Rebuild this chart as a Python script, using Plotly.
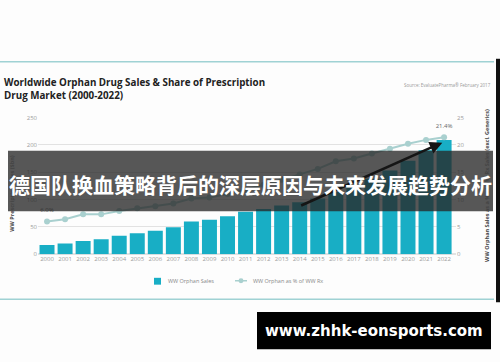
import plotly.graph_objects as go

years = list(range(2000, 2023))
year_labels = [str(y) for y in years]
sales_bn = [17, 20, 24.5, 27.5, 34, 38.5, 43, 49.5, 60, 63, 69.5, 78, 83, 89, 95, 102,
            114, 125, 138, 153, 171, 190, 209]
share_pct = [6.0, 6.4, 7.3, 7.3, 7.9, 8.4, 8.8, 9.3, 10.2, 10.4, 11.0, 11.8, 12.7, 13.6,
             14.6, 15.6, 17.0, 17.5, 18.4, 19.3, 20.2, 20.9, 21.4]
left_ticks = [0, 50, 100, 150, 200, 250]
right_ticks = [0, 5, 10, 15, 20, 25]

W, H = 500, 362
def px(x):
    return x / W
def py(y):
    return 1 - y / H

BAR = "#18aec5"
LINE = "#a9d0cf"
TICK = "#9c9c9c"

fig = go.Figure()
fig.add_trace(go.Bar(x=years, y=sales_bn, name="WW Orphan Sales",
                     marker=dict(color=BAR, line=dict(width=0)), yaxis="y",
                     showlegend=False))
fig.add_trace(go.Scatter(x=years, y=share_pct, name="WW Orphan as % of WW Rx",
                         mode="lines+markers", yaxis="y2",
                         line=dict(color=LINE, width=2),
                         marker=dict(color=LINE, size=6), showlegend=False))
lab_idx = [0, len(years) - 1]
fig.add_trace(go.Scatter(x=[years[i] for i in lab_idx],
                         y=[share_pct[i] for i in lab_idx],
                         text=[f"{share_pct[i]:.1f}%<br> " for i in lab_idx],
                         mode="text", textposition="top center",
                         textfont=dict(size=6, color="#666"),
                         yaxis="y2", showlegend=False, hoverinfo="skip"))

fig.update_layout(
    width=W, height=H,
    margin=dict(l=0, r=0, t=0, b=0),
    paper_bgcolor="#fdfdfd", plot_bgcolor="rgba(0,0,0,0)",
    bargap=0.17,
    font=dict(family="Open Sans", color=TICK),
    xaxis=dict(domain=[px(38), px(456)], range=[1999.5, 2022.66],
               tickvals=years, ticktext=year_labels, tickangle=0,
               tickfont=dict(size=6, color=TICK), showgrid=False,
               zeroline=False, showline=False, ticks=""),
    yaxis=dict(domain=[py(256), py(116)], range=[0, 250], tickvals=left_ticks,
               tickfont=dict(size=6, color=TICK), showgrid=True,
               gridcolor="#e2e2e2", gridwidth=1, zeroline=True,
               zerolinecolor="#e2e2e2", showline=False, ticks=""),
    yaxis2=dict(overlaying="y", side="right", range=[0, 25], tickvals=right_ticks,
                ticksuffix="%", tickfont=dict(size=6, color=TICK), showgrid=False,
                zeroline=False, showline=False, ticks=""),
    showlegend=False,
)

shapes = [
    dict(type="line", xref="paper", yref="paper", x0=0, x1=px(494), y0=py(59), y1=py(59),
         line=dict(color="#9fd2d4", width=1.5)),
    dict(type="line", xref="paper", yref="paper", x0=0, x1=px(494), y0=py(302), y1=py(302),
         line=dict(color="#9fd2d4", width=1.5)),
    dict(type="rect", xref="paper", yref="paper", x0=px(496), x1=px(500), y0=py(305), y1=py(56),
         fillcolor="#111", line=dict(width=0)),
    # legend symbols
    dict(type="rect", xref="paper", yref="paper", x0=px(154), x1=px(161), y0=py(287), y1=py(280),
         fillcolor=BAR, line=dict(width=0)),
    dict(type="line", xref="paper", yref="paper", x0=px(235), x1=px(247), y0=py(283), y1=py(283),
         line=dict(color=LINE, width=1.5)),
    dict(type="circle", xref="paper", yref="paper", x0=px(238.5), x1=px(243.5), y0=py(285.5), y1=py(280.5),
         fillcolor=LINE, line=dict(width=0)),
    # banner overlay
    dict(type="rect", xref="paper", yref="paper", x0=px(8), x1=px(493), y0=py(212), y1=py(150),
         fillcolor="rgba(40,40,40,0.78)", line=dict(width=0), layer="above"),
    dict(type="rect", xref="paper", yref="paper", x0=px(257), x1=px(491), y0=py(353), y1=py(315),
         fillcolor="#000", line=dict(width=0)),
]
fig.update_layout(shapes=shapes)

ann = [
    dict(text="<b>Worldwide Orphan Drug Sales & Share of Prescription<br>Drug Market (2000-2022)</b>",
         xref="paper", yref="paper", x=px(2), y=py(87), xanchor="left", yanchor="middle",
         align="left", showarrow=False, font=dict(size=9.8, color="#222", family="Open Sans")),
    dict(text="Source: EvaluatePharma® February 2017", xref="paper", yref="paper",
         x=px(493), y=py(83), xanchor="right", yanchor="middle", showarrow=False,
         font=dict(size=4.5, color="#999")),
    dict(text="<b>WW Prescription Sales ($bn)</b>", xref="paper", yref="paper",
         x=px(12), y=py(194), xanchor="center", yanchor="middle", textangle=-90,
         showarrow=False, font=dict(size=5.5, color="#444")),
    dict(text="<b>WW Orphan Sales as a % of WW Rx Sales (excl. Generics)</b>", xref="paper",
         yref="paper", x=px(487), y=py(186), xanchor="center", yanchor="middle",
         textangle=-90, showarrow=False, font=dict(size=5.5, color="#444")),
    dict(text="WW Orphan Sales", xref="paper", yref="paper", x=px(166), y=py(283),
         xanchor="left", yanchor="middle", showarrow=False, font=dict(size=5.5, color="#888")),
    dict(text="WW Orphan as % of WW Rx", xref="paper", yref="paper", x=px(251), y=py(283),
         xanchor="left", yanchor="middle", showarrow=False, font=dict(size=5.5, color="#888")),
    dict(x=2021.9, y=204, ax=2014, ay=88, xref="x", yref="y", axref="x", ayref="y",
         showarrow=True, arrowhead=2, arrowsize=1, arrowwidth=2.5, arrowcolor="#151515", text=""),
    dict(text="<b>德国队换血策略背后的深层原因与未来发展趋势分析</b>", xref="paper", yref="paper",
         x=px(250), y=py(184), xanchor="center", yanchor="middle", showarrow=False,
         font=dict(size=21, color="#ffffff", family="Noto Sans CJK SC")),
    dict(text="<b>www.zhhk-eonsports.com</b>", xref="paper", yref="paper",
         x=px(374), y=py(334), xanchor="center", yanchor="middle", showarrow=False,
         font=dict(size=15, color="#ffffff", family="DejaVu Sans")),
]
fig.update_layout(annotations=ann)

fig.write_html("out.html", config={"displayModeBar": False},
               post_script="document.body.style.margin='0';")
